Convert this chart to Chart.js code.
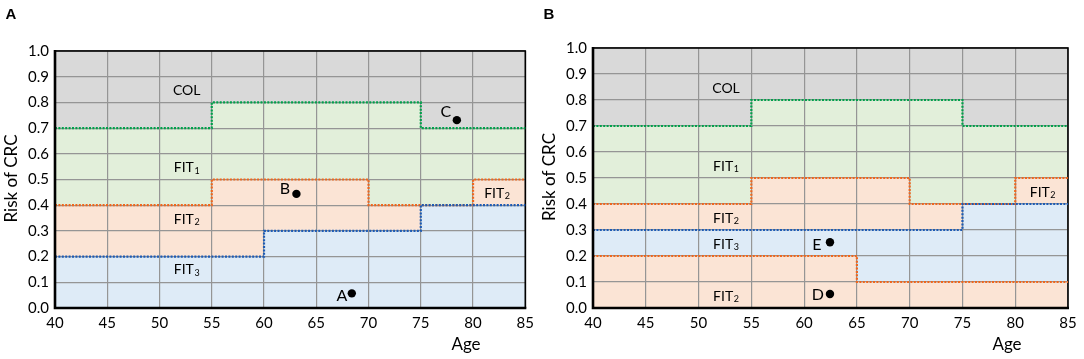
<!DOCTYPE html>
<html><head><meta charset="utf-8">
<script src="https://cdn.jsdelivr.net/npm/chart.js@4.4.1/dist/chart.umd.min.js"></script>
<style>
html,body{margin:0;padding:0;background:#fff;}
#wrap{position:relative;width:1084px;height:359px;overflow:hidden;}
#ca{position:absolute;left:0;top:0;}
#cb{position:absolute;left:540px;top:0;}
</style></head><body>
<div id="wrap"><canvas id="ca" width="540" height="359"></canvas><canvas id="cb" width="544" height="359"></canvas></div>
<script>
// ---------- DATA ----------
const ageMin = 40, ageMax = 85, ageStep = 5;
const riskMin = 0, riskMax = 1, riskStep = 0.1;

// Step boundaries: [age where step starts, risk], last point closes at 85
const aFit3Top = [[40,0.2],[60,0.3],[75,0.4],[85,0.4]];
const aFit2Top = [[40,0.4],[55,0.5],[70,0.4],[80,0.5],[85,0.5]];
const aFit1Top = [[40,0.7],[55,0.8],[75,0.7],[85,0.7]];
const colTop   = [[40,1.0],[85,1.0]];

const bFit2LowTop = [[40,0.2],[65,0.1],[85,0.1]];
const bFit3Top    = [[40,0.3],[75,0.4],[85,0.4]];
const bFit2Top    = [[40,0.4],[55,0.5],[70,0.4],[80,0.5],[85,0.5]];
const bFit1Top    = [[40,0.7],[55,0.8],[75,0.7],[85,0.7]];

// Patients
const patientsA = ['A','B','C'];
const patientsAAge = [68.4, 63.1, 78.45];
const patientsARisk = [0.057, 0.444, 0.731];
const patientsALabelAge = [67.45, 62.0, 77.4];
const patientsALabelRisk = [0.047, 0.463, 0.763];

const patientsB = ['E','D'];
const patientsBAge = [62.45, 62.45];
const patientsBRisk = [0.253, 0.054];
const patientsBLabelAge = [61.2, 61.3];
const patientsBLabelRisk = [0.242, 0.050];

// Region labels [text, subscript, age, risk]
const regionsA = [['COL','',52.6,0.848],['FIT','1',52.6,0.545],['FIT','2',52.6,0.346],['FIT','3',52.6,0.148],['FIT','2',82.3,0.447]];
const regionsB = [['COL','',52.6,0.846],['FIT','1',52.6,0.546],['FIT','2',52.6,0.346],['FIT','3',52.6,0.246],['FIT','2',52.6,0.046],['FIT','2',82.6,0.446]];

// ---------- STYLE ----------
const C = {
  gray:'#d9d9d9', green:'#e2efda', orange:'#fbe4d5', blue:'#deebf7',
  lgreen:'#00a14b', lorange:'#f0661c', lblue:'#1d5bb5', grid:'#959595'
};
Chart.defaults.font.family = 'Lato, "Open Sans", sans-serif';
Chart.defaults.color = '#000';

const toXY = a => a.map(([x,y]) => ({x, y}));

function boundary(data, fill, bg, line) {
  return {data: toXY(data), stepped: true, fill, backgroundColor: bg,
    borderColor: line || 'rgba(0,0,0,0)', borderWidth: line ? 2.2 : 0,
    borderDash: [2, 1.4], borderCapStyle: 'butt', pointRadius: 0, lift: true};
}
function pointsDs(xs, ys) {
  return {data: xs.map((x,i)=>({x, y: ys[i]})), showLine: false, fill: false,
    pointRadius: 4.2, pointBackgroundColor: '#000', pointBorderWidth: 0, pointHoverRadius: 4.2, lift: true};
}

function makeChart(canvas, cfg) {
  const liftPlugin = {
    id: 'lift',
    beforeDatasetDraw(chart, args) {
      if (chart.data.datasets[args.index].lift) return false;
    },
    afterDraw(chart) {
      const ctx = chart.ctx, xs = chart.scales.x, ys = chart.scales.y, a = chart.chartArea;
      // plot frame
      ctx.save();
      ctx.strokeStyle = '#000'; ctx.lineWidth = 1.6;
      ctx.strokeRect(a.left, a.top, a.right - a.left, a.bottom - a.top);
      ctx.restore();
      // lifted datasets (lines & points) on top of grid
      for (let i = chart.data.datasets.length - 1; i >= 0; i--) {
        if (chart.data.datasets[i].lift) { ctx.save(); chart.getDatasetMeta(i).controller.draw(); ctx.restore(); }
      }
      // axis lines
      ctx.save();
      ctx.strokeStyle = '#000'; ctx.lineWidth = 2.6;
      ctx.beginPath(); ctx.moveTo(a.left, a.top - 1); ctx.lineTo(a.left, a.bottom); ctx.lineTo(a.right + 1, a.bottom); ctx.stroke();
      ctx.restore();
      ctx.save();
      ctx.fillStyle = '#000'; ctx.textBaseline = 'middle'; ctx.textAlign = 'center';
      // region labels
      cfg.regions.forEach(([t, s, x, y]) => {
        const px = xs.getPixelForValue(x), py = ys.getPixelForValue(y);
        ctx.font = '14px Lato';
        const w1 = ctx.measureText(t).width;
        ctx.font = '9px Lato';
        const w2 = s ? ctx.measureText(s).width + 0.5 : 0;
        const x0 = px - (w1 + w2) / 2;
        ctx.textAlign = 'left';
        ctx.font = '14px Lato'; ctx.fillText(t, x0, py);
        if (s) { ctx.font = '9px Lato'; ctx.fillText(s, x0 + w1 + 0.5, py + 3); }
      });
      // point labels
      ctx.textAlign = 'center'; ctx.font = '16px Lato';
      cfg.ptLabels.forEach((t, i) => {
        ctx.fillText(t, xs.getPixelForValue(cfg.ptLabelX[i]), ys.getPixelForValue(cfg.ptLabelY[i]));
      });
      // titles
      ctx.font = '17px Lato';
      ctx.fillText('Age', cfg.ageX, 345);
      ctx.save(); ctx.translate(cfg.riskX, (a.top + a.bottom) / 2 - 1); ctx.rotate(-Math.PI/2);
      ctx.fillText('Risk of CRC', 0, 0); ctx.restore();
      ctx.font = 'bold 15px "Liberation Sans", Arial, sans-serif';
      ctx.fillText(cfg.letter, cfg.letterX, 15);
      ctx.restore();
    }
  };
  return new Chart(canvas, {
    type: 'line',
    data: {datasets: cfg.datasets},
    options: {
      responsive: false, animation: false, devicePixelRatio: 1,
      layout: {padding: {left: 0, right: cfg.padRight, top: cfg.padTop, bottom: 0}},
      plugins: {legend: {display: false}, tooltip: {enabled: false}, filler: {drawTime: 'beforeDatasetsDraw'}},
      elements: {line: {tension: 0}},
      scales: {
        x: {type: 'linear', min: ageMin, max: ageMax,
          ticks: {stepSize: ageStep, autoSkip: false, maxRotation: 0, padding: 6, font: {size: 15}, color: '#000'},
          grid: {color: C.grid, lineWidth: 1.2, drawTicks: false, z: 1},
          border: {display: false},
          afterFit: s => { s.height = 51; }},
        y: {type: 'linear', min: riskMin, max: riskMax,
          ticks: {stepSize: riskStep, padding: 6, font: {size: 15}, color: '#000', callback: v => Number(v).toFixed(1)},
          grid: {color: C.grid, lineWidth: 1.2, drawTicks: false, z: 1},
          border: {display: false},
          afterFit: s => { s.width = cfg.yWidth; }}
      }
    },
    plugins: [liftPlugin]
  });
}

makeChart(document.getElementById('ca'), {
  datasets: [
    pointsDs(patientsAAge, patientsARisk),
    boundary(aFit3Top, 'origin', C.blue, C.lblue),
    boundary(aFit2Top, '-1', C.orange, C.lorange),
    boundary(aFit1Top, '-1', C.green, C.lgreen),
    boundary(colTop, '-1', C.gray, null)
  ],
  regions: regionsA, ptLabels: patientsA, ptLabelX: patientsALabelAge, ptLabelY: patientsALabelRisk,
  yWidth: 55, padRight: 13, padTop: 51, ageX: 466, riskX: 12, letter: 'A', letterX: 11
});

makeChart(document.getElementById('cb'), {
  datasets: [
    pointsDs(patientsBAge, patientsBRisk),
    boundary(bFit2LowTop, 'origin', C.orange, C.lorange),
    boundary(bFit3Top, '-1', C.blue, C.lblue),
    boundary(bFit2Top, '-1', C.orange, C.lorange),
    boundary(bFit1Top, '-1', C.green, C.lgreen),
    boundary(colTop, '-1', C.gray, null)
  ],
  regions: regionsB, ptLabels: patientsB, ptLabelX: patientsBLabelAge, ptLabelY: patientsBLabelRisk,
  yWidth: 53, padRight: 16, padTop: 48, ageX: 467, riskX: 10, letter: 'B', letterX: 9
});
</script>
</body></html>
